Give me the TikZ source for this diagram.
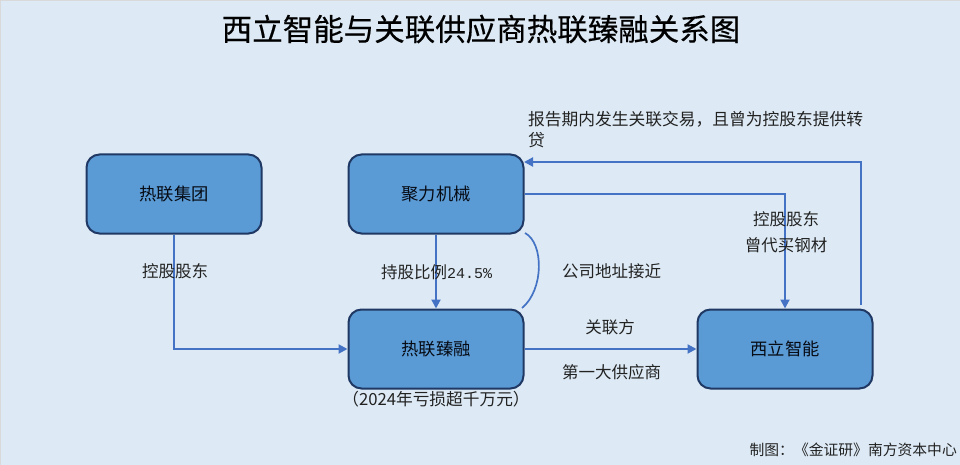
\documentclass[tikz,border=0pt]{standalone}
\usepackage{fontspec}
\setmainfont{Noto Sans CJK SC}
\newfontfamily\latinmono{Liberation Mono}
\newfontfamily\titlefont[FakeBold=0.4]{Noto Sans CJK SC}
\usetikzlibrary{arrows.meta,calc}
\definecolor{bgc}{HTML}{DDEAF5}
\definecolor{boxfill}{HTML}{5B9BD5}
\definecolor{boxline}{HTML}{1F3864}
\definecolor{linkc}{HTML}{4472C4}
\definecolor{inkc}{HTML}{222222}
\tikzset{
  entity/.style={draw=boxline,line width=2pt,fill=boxfill,rounded corners=13pt,minimum width=175pt,minimum height=79pt,inner sep=0pt,text=black!80!boxline,font=\fontsize{17.3pt}{20pt}\selectfont},
  link/.style={draw=linkc,line width=2pt,-{Triangle[length=9pt,width=9pt]}},
  linkplain/.style={draw=linkc,line width=1.7pt},
  lbl/.style={inner sep=0pt,text=inkc,font=\fontsize{16.5pt}{21pt}\selectfont},
}
\begin{document}
\begin{tikzpicture}[x=1pt,y=-1pt]
\useasboundingbox (0,0) rectangle (960,465);
\fill[bgc] (0,0) rectangle (960,465);
\draw[black!15,line width=1pt] (0.5,465) -- (0.5,0.5) -- (960,0.5);
\node[inner sep=0pt,font=\titlefont\fontsize{30.5pt}{34pt}\selectfont,text=black] (title) at (481,29) {西立智能与关联供应商热联臻融关系图};
\node[entity] (group) at (174,194) {热联集团};
\node[entity] (juli) at (436,194) {聚力机械};
\node[entity] (zhen) at (436,349) {热联臻融};
\node[entity] (xili) at (785,349) {西立智能};
\coordinate (retstart) at (861,305);
\coordinate (retend) at (524,162);
\coordinate (arca) at (525,233);
\coordinate (arcb) at (522,308);
\draw[link] (group.south) |- (zhen.west);
\draw[link] (juli.south) -- (zhen.north);
\draw[link] (zhen.east) -- (xili.west);
\draw[link] (juli.east) -| (xili.north);
\draw[link] (retstart) |- (retend);
\draw[linkplain] (arca) .. controls (544,243) and (544,290) .. (arcb);
\node[lbl] (l1) at (175,271) {控股股东};
\node[lbl] (l2) at (436.5,272) {持股比例{\latinmono\fontsize{15pt}{20pt}\selectfont 24.5\%}};
\node[lbl] (l3) at (611.5,271) {公司地址接近};
\node[lbl] (l4) at (610,327) {关联方};
\node[lbl] (l5) at (611.5,372) {第一大供应商};
\node[lbl] (l6) at (786,219) {控股股东};
\node[lbl] (l7) at (786,245) {曾代买钢材};
\node[lbl,anchor=west,font=\fontsize{16.75pt}{21pt}\selectfont] (l8) at (528,119) {报告期内发生关联交易，且曾为控股东提供转};
\node[lbl,anchor=west,font=\fontsize{16.75pt}{21pt}\selectfont] (l9) at (528,140) {贷};
\node[lbl,font=\fontsize{16.7pt}{21pt}\selectfont] (l10) at (436,399) {（2024年亏损超千万元）};
\node[inner sep=0pt,anchor=east,text=inkc,font=\fontsize{14.8pt}{18pt}\selectfont] (credit) at (957,450) {制图：《金证研》南方资本中心};
\end{tikzpicture}
\end{document}
